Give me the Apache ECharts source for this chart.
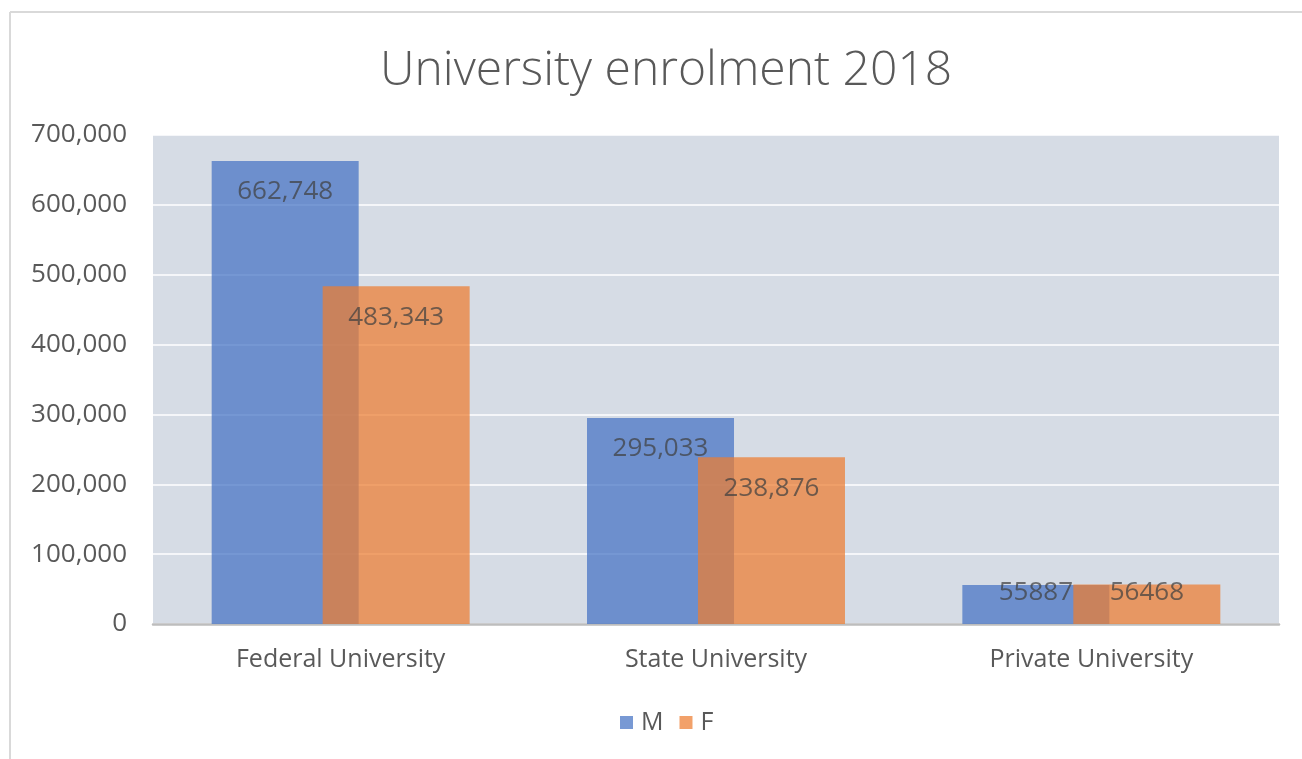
<!DOCTYPE html>
<html>
<head>
<meta charset="utf-8">
<style>
  html, body { margin: 0; padding: 0; background: #ffffff; }
  #chart { width: 1302px; height: 759px; }
</style>
<script src="https://cdn.jsdelivr.net/npm/echarts@6/dist/echarts.min.js"></script>
</head>
<body>
<div id="chart"></div>
<script>
const titleText = 'University enrolment 2018';
const categories = ['Federal University', 'State University', 'Private University'];
const seriesNames = ['M', 'F'];
const valuesM = [662748, 295033, 55887];
const valuesF = [483343, 238876, 56468];
const labelsM = ['662,748', '295,033', '55887'];
const labelsF = ['483,343', '238,876', '56468'];
const yMin = 0, yMax = 700000, yInterval = 100000;

const FONT = '"Open Sans", "DejaVu Sans", sans-serif';
const colors = ['#4472C4', '#ED7D31'];

function buildData(values, labels) {
  return values.map(function (v, i) {
    return {
      value: v,
      label: {
        formatter: labels[i],
        distance: v < 100000 ? -5 : 18
      }
    };
  });
}

const chart = echarts.init(document.getElementById('chart'));
chart.setOption({
  animation: false,
  textStyle: { fontFamily: FONT },
  title: {
    text: titleText,
    left: 375,
    top: 42,
    textStyle: { fontFamily: FONT, fontSize: 48, fontWeight: 300, color: '#595959' }
  },
  legend: {
    data: seriesNames,
    bottom: 19,
    left: 615,
    icon: 'rect',
    itemWidth: 13,
    itemHeight: 13,
    itemGap: 16,
    textStyle: { fontFamily: FONT, fontSize: 25, color: '#595959', padding: [0, 0, 0, 3] }
  },
  grid: {
    left: 153, right: 23, top: 135, bottom: 135,
    show: true, backgroundColor: '#D6DCE5', borderWidth: 0
  },
  xAxis: {
    type: 'category',
    data: categories,
    axisLine: { lineStyle: { color: '#BDBDBD', width: 2.5 } },
    axisTick: { show: false },
    axisLabel: { fontFamily: FONT, fontSize: 25, color: '#595959', margin: 23 }
  },
  yAxis: {
    type: 'value',
    min: yMin, max: yMax, interval: yInterval,
    axisLine: { show: false },
    axisTick: { show: false },
    splitLine: { lineStyle: { color: '#FFFFFF', width: 1.5 } },
    axisLabel: {
      fontFamily: FONT, fontSize: 26, color: '#595959', margin: 26,
      formatter: function (v) { return v.toLocaleString('en-US'); }
    }
  },
  series: [
    {
      name: seriesNames[0], type: 'bar',
      data: buildData(valuesM, labelsM),
      barWidth: 147, barGap: '-24.5%',
      itemStyle: { color: colors[0], opacity: 0.72 },
      label: { show: true, position: 'insideTop', fontFamily: FONT, fontSize: 26, color: '#404040' }
    },
    {
      name: seriesNames[1], type: 'bar',
      data: buildData(valuesF, labelsF),
      barWidth: 147, barGap: '-24.5%',
      itemStyle: { color: colors[1], opacity: 0.72 },
      label: { show: true, position: 'insideTop', fontFamily: FONT, fontSize: 26, color: '#404040' }
    }
  ],
  graphic: [
    { type: 'line', shape: { x1: 10, y1: 12, x2: 1302, y2: 12 }, style: { stroke: '#D9D9D9', lineWidth: 2 }, silent: true },
    { type: 'line', shape: { x1: 10, y1: 12, x2: 10, y2: 759 }, style: { stroke: '#D9D9D9', lineWidth: 2 }, silent: true }
  ]
});
</script>
</body>
</html>
